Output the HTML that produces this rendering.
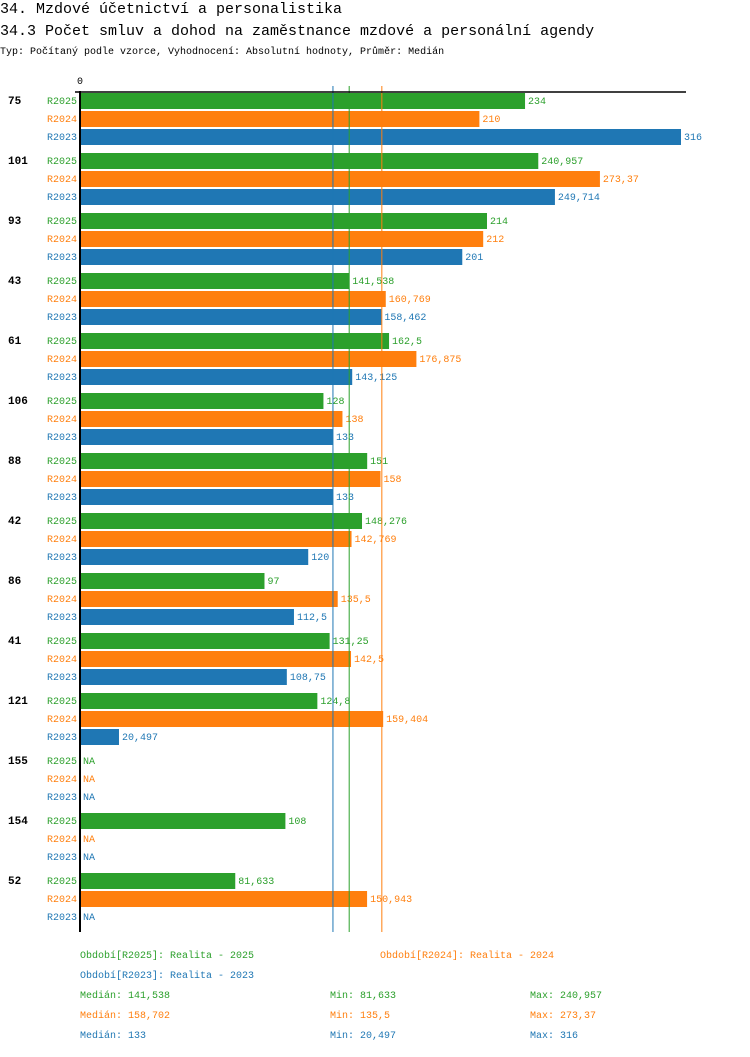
<!DOCTYPE html>
<html><head><meta charset="utf-8"><style>
body{margin:0;background:#fff;width:750px;height:1052px;overflow:hidden;font-family:"Liberation Mono",monospace}
svg text{font-family:"Liberation Mono",monospace}
</style></head><body>
<svg id="c" width="750" height="1052" xmlns="http://www.w3.org/2000/svg">
<text x="0" y="13" font-size="15">34. Mzdové účetnictví a personalistika</text>
<text x="0" y="35" font-size="15">34.3 Počet smluv a dohod na zaměstnance mzdové a personální agendy</text>
<text x="0" y="54" font-size="10">Typ: Počítaný podle vzorce, Vyhodnocení: Absolutní hodnoty, Průměr: Medián</text>
</svg>
<script>
const categories=["75","101","93","43","61","106","88","42","86","41","121","155","154","52"];
const seriesNames=["R2025","R2024","R2023"];
const r2025=[234,240.957,214,141.538,162.5,128,151,148.276,97,131.25,124.8,null,108,81.633];
const r2024=[210,273.37,212,160.769,176.875,138,158,142.769,135.5,142.5,159.404,null,null,150.943];
const r2023=[316,249.714,201,158.462,143.125,133,133,120,112.5,108.75,20.497,null,null,null];
const medians=[141.538,158.702,133];
const colors=["#2ca02c","#ff7f0e","#1f77b4"];
const svg=document.getElementById('c');
const NS='http://www.w3.org/2000/svg';
const x0=80, pxPerUnit=601/316;
const xs=v=>x0+v*pxPerUnit;
const fmt=v=>String(v).replace('.',',');
function mk(tag,attrs,txt){const e=document.createElementNS(NS,tag);for(const k in attrs)e.setAttribute(k,attrs[k]);if(txt!=null)e.textContent=txt;svg.appendChild(e);return e;}
let t=mk('text',{x:77,y:84,'font-size':10},'0');


const all=[r2025,r2024,r2023];
categories.forEach((c,i)=>{
  const gy=92+i*60;
  let l=mk('text',{x:8,y:gy+12,'font-size':11,'font-weight':'bold'},c);
  
  
  all.forEach((s,j)=>{
    const y=gy+j*18, v=s[i];
    let sl=mk('text',{x:47,y:y+12,'font-size':10,fill:colors[j]},seriesNames[j]);
    
    
    if(v!=null){
      let b=mk('rect',{x:x0+1,y:y+1,width:xs(v)-x0-1,height:16,fill:colors[j]});
      
      
    }
    let vl=mk('text',{x:(v!=null?xs(v):x0)+3,y:y+12,'font-size':10,fill:colors[j]},v!=null?fmt(v):'NA');
    
    
  });
});
medians.forEach((m,j)=>{
  let ln=mk('line',{x1:xs(m),x2:xs(m),y1:86,y2:932,stroke:colors[j],'stroke-width':1});
  
  
});
let ax=mk('line',{x1:75,x2:686,y1:92,y2:92,stroke:'#000','stroke-width':1.5});


let ay=mk('line',{x1:80,x2:80,y1:91,y2:932,stroke:'#000','stroke-width':2});


const legend=[[80,958,0,'Období[R2025]: Realita - 2025'],[380,958,1,'Období[R2024]: Realita - 2024'],[80,978,2,'Období[R2023]: Realita - 2023'],
[80,998,0,'Medián: 141,538'],[330,998,0,'Min: 81,633'],[530,998,0,'Max: 240,957'],
[80,1018,1,'Medián: 158,702'],[330,1018,1,'Min: 135,5'],[530,1018,1,'Max: 273,37'],
[80,1038,2,'Medián: 133'],[330,1038,2,'Min: 20,497'],[530,1038,2,'Max: 316']];
legend.forEach(([x,y,j,s])=>{
  let e=mk('text',{x:x,y:y,'font-size':10,fill:colors[j]},s);
  
  
});
</script>
</body></html>
